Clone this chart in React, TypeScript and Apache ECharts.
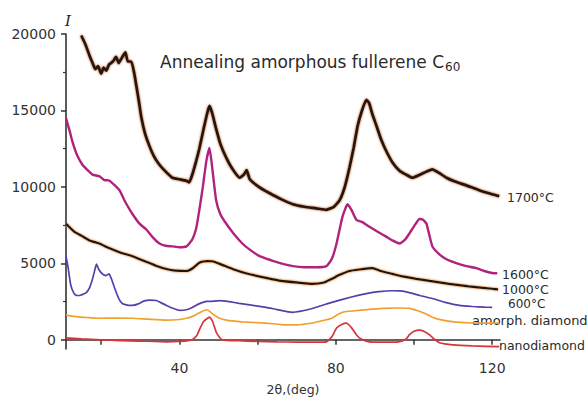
import React, { useEffect, useRef } from "react";
import * as echarts from "echarts";

// [2θ (deg), intensity]
const s1700: number[][] = [
  [14.9, 19900], [16, 19300], [17, 18600], [17.8, 18100], [18.5, 17700], [19.2, 17900],
  [20, 17400], [20.6, 17800], [21.3, 17600], [22, 18000], [23, 18200], [23.8, 18500],
  [24.5, 18100], [25.4, 18500], [26.2, 18800], [26.8, 18200], [27.7, 18200], [28.4, 17500],
  [29, 16600], [29.7, 15500], [30.3, 14500], [31.2, 13500], [32.3, 12700], [33.5, 12000],
  [34.9, 11450], [36.5, 11000], [38.2, 10600], [40, 10500], [41.8, 10400], [42.5, 10300],
  [43.3, 10800], [44.2, 11600], [45.1, 12500], [46.2, 13800], [47.2, 14900], [47.7, 15300],
  [48.3, 14900], [49.4, 13800], [50.5, 12800], [52, 11900], [53.5, 11200], [55.4, 10600],
  [56.5, 10800], [57.2, 11100], [58, 10500], [60.5, 9970], [63, 9600], [66, 9200],
  [69, 8870], [72, 8700], [75, 8600], [77.6, 8500], [79.5, 8700], [81, 9130], [82.3, 10000],
  [83.5, 11250], [84.6, 12600], [85.6, 14000], [86.7, 15000], [87.8, 15700], [88.5, 15500],
  [89.3, 14800], [90.4, 14000], [91.6, 13100], [92.9, 12350], [94.5, 11600], [96.3, 11060],
  [98, 10800], [99.6, 10600], [101.5, 10800], [103.2, 11000], [104.7, 11150], [106.5, 10900],
  [108.3, 10600], [110.5, 10350], [113.4, 10100], [116.5, 9800], [120, 9520], [121.8, 9400],
];

const s1600: number[][] = [
  [11, 14500], [12, 13600], [12.6, 13000], [13.8, 12100], [15.2, 11450], [16.5, 11100],
  [17.8, 10800], [19.5, 10700], [20.8, 10450], [22, 10420], [23.5, 10100], [24.7, 9770],
  [26.2, 9000], [28, 8230], [29.8, 7600], [31.6, 7200], [33.2, 6700], [34.9, 6300],
  [36.5, 6150], [38.2, 6110], [40, 6050], [41.8, 6110], [43.3, 6560], [44.3, 7300],
  [45.1, 8490], [46, 10000], [46.9, 11700], [47.7, 12540], [48.4, 11250], [49.4, 9130],
  [50.5, 8200], [52, 7590], [54, 6900], [56.1, 6300], [58, 5900], [60.5, 5470],
  [63.5, 5200], [66, 5000], [69, 4820], [72, 4750], [75, 4750], [77.6, 4820], [79, 5300],
  [80.2, 6300], [81.7, 8040], [83, 8870], [84, 8500], [85.3, 7840], [86.8, 7700],
  [88.6, 7390], [90.5, 7100], [92.9, 6750], [94.5, 6500], [96.3, 6300], [97.5, 6500],
  [98.8, 6940], [100.2, 7500], [101.4, 7900], [102.3, 7850], [103.2, 7590], [104.7, 6110],
  [106.5, 5590], [108.3, 5270], [110.8, 5020], [113.4, 4820], [116, 4690], [118, 4500],
  [120, 4370], [121.3, 4350],
];

const s1000: number[][] = [
  [11, 7590], [13, 7100], [15, 6800], [17, 6500], [19.5, 6300], [22, 6000], [25, 5700],
  [28, 5470], [31, 5150], [34, 4850], [36.7, 4630], [39, 4530], [41.8, 4500], [43.5, 4700],
  [45.2, 5050], [47, 5150], [48.4, 5140], [50.5, 4950], [53.6, 4630], [57, 4350],
  [62.2, 4050], [66, 3850], [70.7, 3730], [74, 3660], [77, 3750], [79, 3990], [81, 4250],
  [83.5, 4500], [86, 4600], [89.4, 4690], [91.5, 4500], [94.5, 4310], [97, 4150],
  [100.6, 3990], [104, 3850], [109, 3660], [114, 3500], [120, 3340], [121.5, 3300],
];

const s600: number[][] = [
  [11, 5470], [11.5, 4800], [12.2, 3600], [13, 3050], [13.7, 2900], [14.5, 2900],
  [15.5, 3000], [16.2, 3090], [17, 3400], [17.8, 4000], [18.5, 4700], [18.8, 4950],
  [19.4, 4600], [20.3, 4310], [21.2, 4200], [22, 4310], [22.6, 4000], [23.5, 3340],
  [24.5, 2700], [25.4, 2380], [27, 2250], [28, 2250], [29.5, 2350], [31, 2550],
  [32.5, 2600], [34.1, 2570], [35.5, 2400], [36.7, 2250], [38.5, 2050], [40, 1930],
  [41.5, 1950], [43.3, 2120], [45, 2350], [46.9, 2510], [48, 2520], [50.2, 2570],
  [52, 2530], [55.3, 2380], [58, 2280], [62.2, 2120], [65, 1980], [68.9, 1800],
  [74, 2050], [79, 2450], [84, 2800], [87.8, 3020], [91, 3150], [94.5, 3210],
  [96.5, 3200], [98.8, 3090], [101.5, 2900], [104.7, 2700], [108, 2450], [111.6, 2250],
  [115, 2180], [118, 2140], [120, 2120],
];

const sAmorph: number[][] = [
  [11, 1610], [14, 1500], [17, 1450], [19.5, 1410], [24, 1420], [28, 1410], [32, 1350],
  [36.7, 1290], [40, 1330], [41.8, 1410], [43.5, 1550], [45, 1750], [46.5, 1930],
  [47.2, 1950], [48.5, 1700], [50, 1450], [52, 1290], [56, 1180], [62.2, 1090],
  [66, 1000], [70, 980], [74, 1100], [77, 1280], [79, 1410], [80.5, 1650], [82, 1820],
  [85, 1900], [88, 1980], [92, 2060], [96, 2080], [98.8, 2060], [101, 1900], [103, 1700],
  [104.7, 1480], [107, 1300], [110.8, 1160], [115, 1100], [121.8, 1090],
];

const sNano: number[][] = [
  [11, 130], [15, 60], [20, 0], [25, -50], [30, -80], [36.7, -130], [40, -100], [43.3, 0],
  [44.5, 300], [45.3, 770], [46.2, 1200], [47.7, 1480], [48.5, 1200], [49.4, 510],
  [50.3, 150], [51, 0], [55, -60], [60, -100], [65, -130], [70, -150], [75, -150],
  [77.6, -130], [79, 200], [80.2, 770], [81.5, 1000], [82.7, 1090], [84, 800], [85.3, 320],
  [86.5, 50], [88.6, -130], [93, -150], [96, -130], [98, 60], [98.8, 320], [100, 560],
  [101.4, 640], [102.5, 560], [104, 320], [105.2, 50], [106.5, -190], [110, -330],
  [115, -400], [121.8, -450],
];

const xMajorTicks = [20, 40, 60, 80, 100, 120];
const xLabels = [40, 80, 120];
const yLabels = [0, 5000, 10000, 15000, 20000];
const yMinorTicks = [2500, 7500, 12500, 17500];

const seriesNames = ["1700°C", "1600°C", "1000°C", "600°C", "amorph. diamond", "nanodiamond"];

export default function App() {
  const ref = useRef<HTMLDivElement>(null);
  useEffect(() => {
    if (!ref.current) return;
    const chart = echarts.init(ref.current, undefined, { renderer: "svg" });
    const axisColor = "#333";
    const labelFont = "DejaVu Sans";
    const mk = (name: string, data: number[][], color: string, width: number, shadow?: string, smooth = 0.15) => ({
      type: "line",
      name,
      data,
      showSymbol: false,
      smooth,
      lineStyle: {
        color,
        width,
        ...(shadow ? { shadowColor: shadow, shadowBlur: 2 } : {}),
      },
      z: 3,
    });
    chart.setOption({
      animation: false,
      backgroundColor: "#ffffff",
      grid: { left: 66, right: 87, top: 34, bottom: 47 },
      xAxis: {
        type: "value",
        min: 11,
        max: 122,
        axisLine: { show: true, lineStyle: { color: axisColor, width: 1.6 } },
        axisTick: { show: true, length: 5, customValues: xMajorTicks, lineStyle: { color: axisColor, width: 1.5 } },
        axisLabel: { customValues: xLabels, color: "#333", fontSize: 14, fontFamily: labelFont, margin: 12 },
        splitLine: { show: false },
        name: "2θ,(deg)",
        nameLocation: "middle",
        nameGap: 34,
        nameTextStyle: { color: "#333", fontSize: 12.5, fontFamily: labelFont, padding: [0, 0, 0, 20] },
      },
      yAxis: [
        {
          type: "value",
          min: -600,
          max: 20000,
          axisLine: { show: true, lineStyle: { color: axisColor, width: 1.6 } },
          axisTick: { show: true, length: 5, customValues: yLabels, lineStyle: { color: axisColor, width: 1.5 } },
          axisLabel: {
            customValues: yLabels,
            color: "#333",
            fontSize: 14,
            fontFamily: labelFont,
            margin: 10,
            formatter: (v: number) => String(v),
          },
          splitLine: { show: false },
          name: "I",
          nameLocation: "end",
          nameGap: 6,
          nameTextStyle: { color: "#222", fontSize: 15, fontStyle: "italic", fontFamily: "DejaVu Serif", padding: [0, 0, 0, 4] },
        },
        {
          type: "value",
          position: "left",
          min: -600,
          max: 20000,
          axisLine: { show: false },
          axisTick: { show: true, length: 3, customValues: yMinorTicks, lineStyle: { color: axisColor, width: 1.2 } },
          axisLabel: { show: false },
          splitLine: { show: false },
        },
      ],
      series: [
        mk(seriesNames[5], sNano, "#d8343c", 1.7),
        mk(seriesNames[4], sAmorph, "#f0a02c", 1.7),
        mk(seriesNames[3], s600, "#5a3ea8", 1.7),
        mk(seriesNames[2], s1000, "#1a1410", 2.2, "#d07020"),
        mk(seriesNames[1], s1600, "#b0227c", 2.4),
        mk(seriesNames[0], s1700, "#22120a", 2.7, "#a84818"),
      ],
      graphic: [
        {
          type: "text",
          left: 160,
          top: 53,
          style: {
            text: "Annealing amorphous fullerene C{sub|60}",
            fill: "#2a2a2a",
            font: "17px 'DejaVu Sans'",
            rich: { sub: { fontSize: 12, fill: "#2a2a2a", fontFamily: "DejaVu Sans", padding: [11, 0, 0, 1] } },
          },
        },
        { type: "text", left: 507, top: 191, style: { text: seriesNames[0], fill: "#2a2a2a", font: "12.5px 'DejaVu Sans'" } },
        { type: "text", left: 502, top: 268, style: { text: seriesNames[1], fill: "#2a2a2a", font: "12.5px 'DejaVu Sans'" } },
        { type: "text", left: 502, top: 283, style: { text: seriesNames[2], fill: "#2a2a2a", font: "12.5px 'DejaVu Sans'" } },
        { type: "text", left: 508, top: 298, style: { text: seriesNames[3], fill: "#2a2a2a", font: "12px 'DejaVu Sans'" } },
        { type: "text", left: 472, top: 314, style: { text: seriesNames[4], fill: "#2a2a2a", font: "13px 'DejaVu Sans'" } },
        { type: "text", left: 499, top: 339, style: { text: seriesNames[5], fill: "#2a2a2a", font: "12.5px 'DejaVu Sans'" } },
      ],
    });
    return () => chart.dispose();
  }, []);
  return <div ref={ref} style={{ width: 587, height: 401, position: "absolute", left: 0, top: 0 }} />;
}
